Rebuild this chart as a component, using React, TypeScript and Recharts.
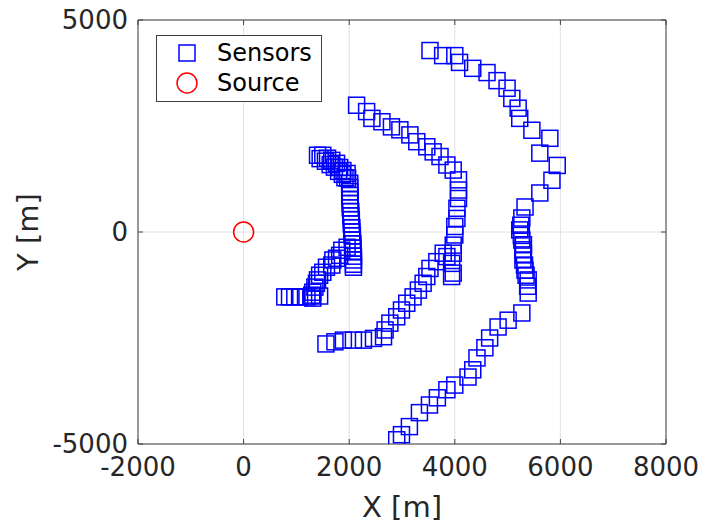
import React from "react";
import { ScatterChart, Scatter, XAxis, YAxis, CartesianGrid, Legend } from "recharts";

// sensor positions [x, y] in metres, one array per arc
const innerArc: [number, number][] = [
  [1400, 1810], [1500, 1810], [1590, 1740], [1670, 1690], [1760, 1620], [1820, 1520], [1880, 1450], [1960, 1380],
  [1970, 1270], [2010, 1150], [1450, 1730], [1550, 1670], [1640, 1590], [1720, 1530], [1800, 1430], [1870, 1360],
  [1920, 1280], [2010, 1050], [2010, 950], [2010, 860], [2020, 760], [2020, 670], [2020, 570], [2030, 480],
  [2030, 380], [2040, 290], [2040, 190], [2050, 100], [2050, 0], [2060, -90], [2060, -190], [2070, -280],
  [2070, -380], [2070, -470], [2080, -570], [2080, -660], [2080, -760], [2080, -830],
  [1960, -360], [1860, -430], [1820, -550], [1760, -620], [1690, -660], [1670, -780], [1570, -830], [1500, -950],
  [1440, -1020], [1400, -1130], [1380, -1210], [1350, -1300], [1310, -1420], [1290, -1490], [1440, -1510],
  [1310, -1560], [1200, -1530], [1060, -1530], [970, -1530], [870, -1530], [780, -1530],
];

const middleArc: [number, number][] = [
  [2140, 2990], [2330, 2840], [2430, 2680], [2620, 2600], [2800, 2480], [2960, 2410], [3150, 2290], [3280, 2130],
  [3470, 2010], [3590, 1890], [3720, 1780], [3850, 1580], [3970, 1460], [4070, 1230], [4070, 990], [4070, 790],
  [4040, 560], [4040, 320], [4000, 130], [4000, -70], [3970, -310], [3970, -500], [3940, -740], [3970, -970],
  [3850, -580], [3940, -1050],
  [3780, -500], [3660, -700], [3530, -860], [3470, -1050], [3400, -1210], [3310, -1370], [3210, -1530],
  [3090, -1680], [2990, -1840], [2900, -2000], [2770, -2150], [2680, -2310], [2650, -2470],
  [2460, -2510], [2270, -2550], [2080, -2550], [1890, -2550], [1730, -2590], [1560, -2640],
];

const outerArc: [number, number][] = [
  [3530, 4280], [3770, 4160], [4000, 4160], [4090, 4000], [4340, 3860], [4610, 3760], [4800, 3570], [4990, 3390],
  [5080, 3150], [5200, 2920], [5230, 2680], [5460, 2400], [5800, 2210], [5610, 1860], [5940, 1570], [5840, 1220],
  [5610, 920], [5330, 590], [5270, 330], [5250, 160], [5230, 50], [5260, -80], [5270, -190], [5300, -300],
  [5290, -420], [5300, -540], [5290, -660], [5320, -780], [5330, -900], [5350, -1020], [5390, -1130],
  [5380, -1280], [5390, -1440], [5270, -1910], [5010, -2080], [4820, -2240], [4660, -2500], [4570, -2730],
  [4420, -2970], [4340, -3250], [4250, -3420], [4000, -3610], [3850, -3720], [3670, -3910], [3520, -4080],
  [3330, -4260], [3140, -4590], [2990, -4780], [2900, -4900],
];

const sourcePos: [number, number][] = [[0, 0]];

const xTicks = [-2000, 0, 2000, 4000, 6000, 8000];
const yTicks = [-5000, 0, 5000];

const sensors = [...innerArc, ...middleArc, ...outerArc].map(([x, y]) => ({ x, y }));
const source = sourcePos.map(([x, y]) => ({ x, y }));

const FONT = "'DejaVu Sans', sans-serif";
const AXIS = "#404040";
const TEXT = "#262626";

const SquareMarker = (props: any) => {
  const { cx, cy } = props;
  return <rect x={cx - 8} y={cy - 8} width={16} height={16} fill="none" stroke="#0000ff" strokeWidth={1.5} />;
};

const CircleMarker = (props: any) => {
  const { cx, cy } = props;
  return <circle cx={cx} cy={cy} r={10} fill="none" stroke="#ff0000" strokeWidth={1.5} />;
};

const LegendBox = () => (
  <svg width={166} height={67} style={{ display: "block" }}>
    <rect x={0.5} y={0.5} width={165} height={66} fill="#fff" stroke={AXIS} strokeWidth={1} />
    <rect x={23} y={10} width={16} height={16} fill="none" stroke="#0000ff" strokeWidth={1.5} />
    <circle cx={31} cy={48} r={10} fill="none" stroke="#ff0000" strokeWidth={1.5} />
    <text x={61} y={18} dominantBaseline="central" fontSize={24} fontFamily={FONT} fill="#000">Sensors</text>
    <text x={61} y={48} dominantBaseline="central" fontSize={24} fontFamily={FONT} fill="#000">Source</text>
  </svg>
);

export default function App() {
  const tickStyle = { fontSize: 26, fontFamily: FONT, fill: TEXT };
  return (
    <div style={{ position: "absolute", left: 0, top: 0, width: 703, height: 525, background: "#fff" }}>
      <ScatterChart width={703} height={525} margin={{ top: 0, right: 0, bottom: 0, left: 0 }}>
        <CartesianGrid stroke="#e2e2e2" strokeWidth={1} />
        <XAxis
          type="number"
          dataKey="x"
          domain={[-2000, 8000]}
          ticks={xTicks}
          allowDataOverflow
          height={81}
          stroke={AXIS}
          tickSize={-5}
          tickMargin={19}
          tick={tickStyle}
          label={{ value: "X [m]", position: "center", dy: 22, fontSize: 29, fontFamily: FONT, fill: TEXT }}
        />
        <XAxis
          xAxisId="top"
          orientation="top"
          type="number"
          dataKey="x"
          domain={[-2000, 8000]}
          ticks={xTicks}
          allowDataOverflow
          height={20}
          stroke={AXIS}
          tickSize={-5}
          tickFormatter={() => ""}
        />
        <YAxis
          type="number"
          dataKey="y"
          domain={[-5000, 5000]}
          ticks={yTicks}
          allowDataOverflow
          width={138}
          stroke={AXIS}
          tickSize={-5}
          tickMargin={15}
          tick={tickStyle}
          label={{ value: "Y [m]", angle: -90, position: "center", dx: -41, fontSize: 29, fontFamily: FONT, fill: TEXT }}
        />
        <YAxis
          yAxisId="right"
          orientation="right"
          type="number"
          dataKey="y"
          domain={[-5000, 5000]}
          ticks={yTicks}
          allowDataOverflow
          width={37}
          stroke={AXIS}
          tickSize={-5}
          tickFormatter={() => ""}
        />
        <Legend
          layout="vertical"
          align="center"
          verticalAlign="middle"
          wrapperStyle={{ left: 156, top: 35, width: 166, height: 67 }}
          content={() => <LegendBox />}
        />
        <Scatter name="Sensors" data={sensors} shape={SquareMarker} isAnimationActive={false} />
        <Scatter name="Source" data={source} shape={CircleMarker} isAnimationActive={false} />
      </ScatterChart>
    </div>
  );
}
